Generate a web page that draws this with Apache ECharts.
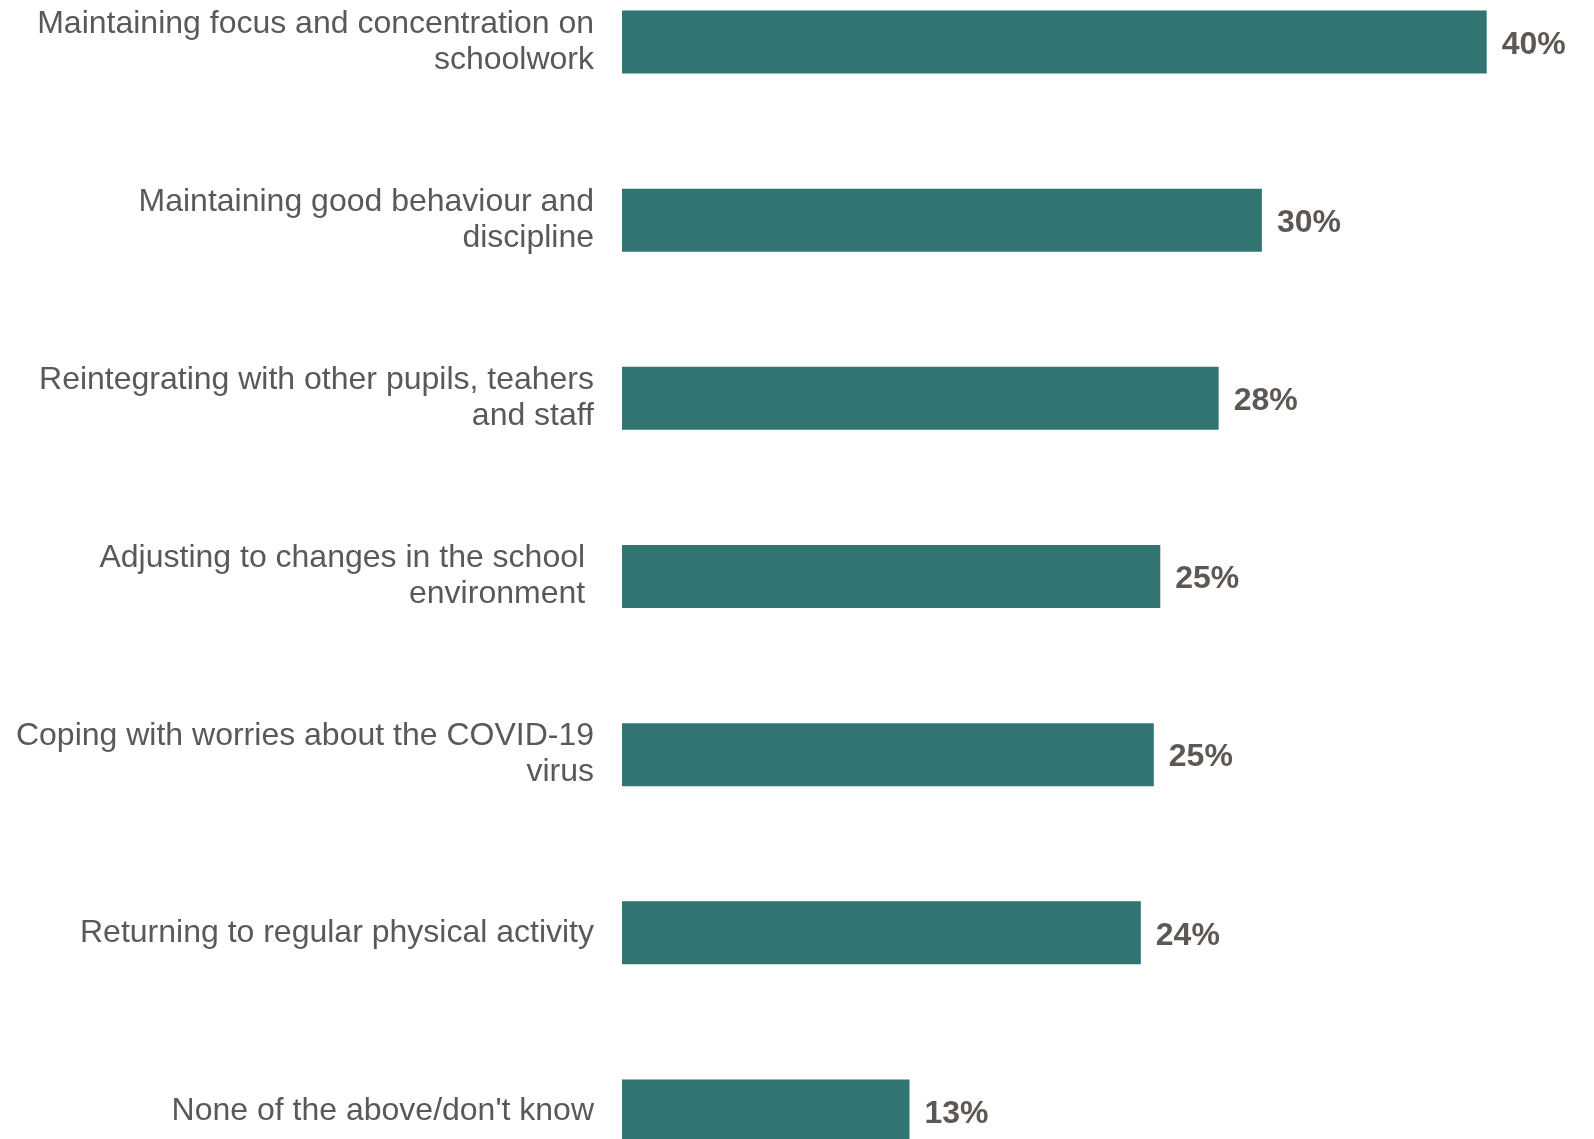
<!DOCTYPE html>
<html>
<head>
<meta charset="utf-8">
<script src="https://cdn.jsdelivr.net/npm/echarts@6/dist/echarts.min.js"></script>
<style>
html,body{margin:0;padding:0;background:#fff;overflow:hidden;width:1594px;height:1139px;position:relative;}
#chart{position:absolute;left:0;top:-46.6px;width:1594px;height:1247.2px;}
</style>
</head>
<body>
<div id="chart"></div>
<script>
const categories = [
  "Maintaining focus and concentration on\nschoolwork",
  "Maintaining good behaviour and\ndiscipline",
  "Reintegrating with other pupils, teahers\nand staff",
  "Adjusting to changes in the school \nenvironment ",
  "Coping with worries about the COVID-19\nvirus",
  "Returning to regular physical activity",
  "None of the above/don't know"
];
const values = [40, 29.6, 27.6, 24.9, 24.6, 24.0, 13.3];

const chart = echarts.init(document.getElementById('chart'), null, {renderer: 'canvas'});
chart.setOption({
  animation: false,
  backgroundColor: '#ffffff',
  grid: {left: 622, right: 107.3, top: 0, bottom: 0, containLabel: false},
  xAxis: {
    type: 'value', min: 0, max: 40,
    show: false
  },
  yAxis: {
    type: 'category',
    data: categories,
    inverse: true,
    axisLine: {show: false},
    axisTick: {show: false},
    splitLine: {show: false},
    axisLabel: {
      margin: 28,
      color: '#595959',
      fontFamily: '"Liberation Sans", Arial, sans-serif',
      fontSize: 32,
      lineHeight: 36,
      padding: [12, 0, 0, 0],
      align: 'right'
    }
  },
  series: [{
    type: 'bar',
    data: values,
    barWidth: 63,
    itemStyle: {color: '#317471'},
    label: {
      show: true,
      position: 'right',
      distance: 15,
      offset: [0, 3],
      color: '#5d5853',
      fontFamily: '"Liberation Sans", Arial, sans-serif',
      fontWeight: 'bold',
      fontSize: 32,
      formatter: p => Math.round(p.value) + '%'
    }
  }]
});
</script>
</body>
</html>
